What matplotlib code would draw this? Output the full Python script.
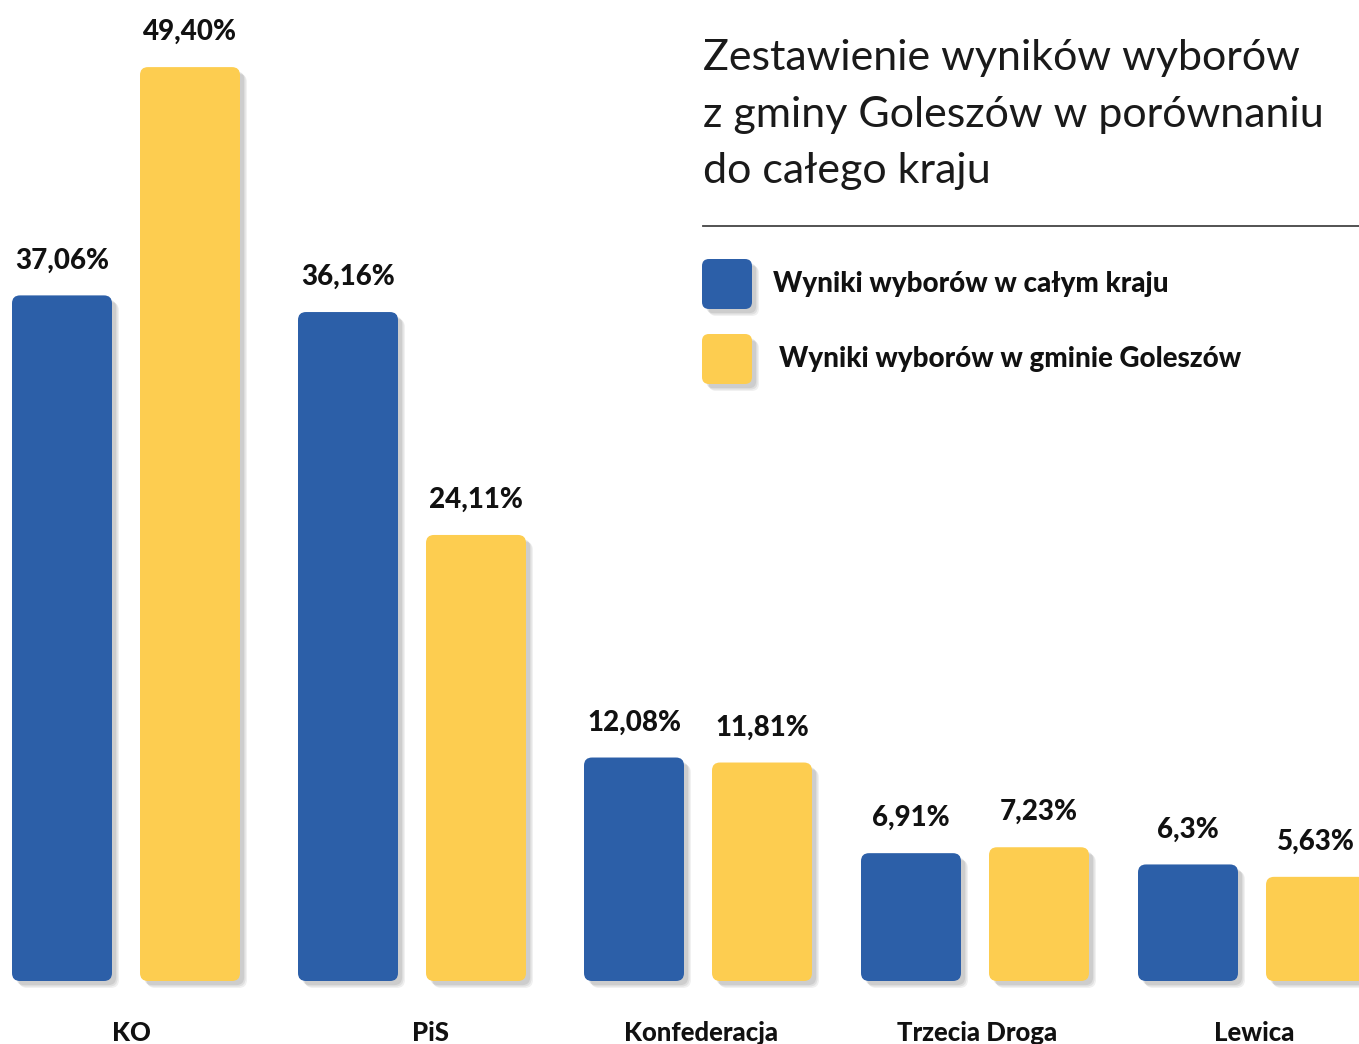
import matplotlib
matplotlib.use("Agg")
import matplotlib.pyplot as plt
import matplotlib.patheffects as pe
from matplotlib.patches import FancyBboxPatch
import numpy as np

plt.rcParams['font.family'] = ['Lato', 'DejaVu Sans']

# ---- data ----
categories = ["KO", "PiS", "Konfederacja", "Trzecia Droga", "Lewica"]
national = [37.06, 36.16, 12.08, 6.91, 6.3]
national_labels = ["37,06%", "36,16%", "12,08%", "6,91%", "6,3%"]
goleszow = [49.40, 24.11, 11.81, 7.23, 5.63]
goleszow_labels = ["49,40%", "24,11%", "11,81%", "7,23%", "5,63%"]
title_lines = ["Zestawienie wyników wyborów",
               "z gminy Goleszów w porównaniu",
               "do całego kraju"]
legend_labels = ["Wyniki wyborów w całym kraju", "Wyniki wyborów w gminie Goleszów"]

BLUE = "#2C5FA8"
YELLOW = "#FDCD50"

W, H = 1359, 1044
fig = plt.figure(figsize=(W / 100, H / 100), dpi=100)

# layout (pixels)
base_px = 981
px_per_pct = 18.5
group_step_px = 281.5
group_px = [126, 412, 698, 975, 1252]
bar_w_px = 100
bar_off_px = 64

ax = fig.add_axes([0, (H - base_px) / H, 1, base_px / H])
ax.set_xlim(0, W / group_step_px)
ax.set_ylim(0, base_px / px_per_pct)
ax.axis("off")

x = np.array(group_px) / group_step_px
bw = bar_w_px / group_step_px
off = bar_off_px / group_step_px

rx = 8 / group_step_px
ry = 8 / px_per_pct

shadow = [pe.SimplePatchShadow(offset=(5, -5), shadow_rgbFace="#000000", alpha=0.06),
          pe.SimplePatchShadow(offset=(4, -4), shadow_rgbFace="#000000", alpha=0.07),
          pe.SimplePatchShadow(offset=(3, -3), shadow_rgbFace="#000000", alpha=0.08),
          pe.Normal()]


def rounded(bars, color):
    for r in bars:
        r.set_visible(False)
        p = FancyBboxPatch((r.get_x(), r.get_y()), r.get_width(), r.get_height(),
                           boxstyle=f"round,pad=0,rounding_size={rx}",
                           mutation_aspect=ry / rx,
                           facecolor=color, edgecolor="none", clip_on=False)
        p.set_path_effects(shadow)
        ax.add_patch(p)


b1 = ax.bar(x - off, national, width=bw, color=BLUE)
b2 = ax.bar(x + off, goleszow, width=bw, color=YELLOW)
rounded(b1, BLUE)
rounded(b2, YELLOW)

LBL = dict(fontsize=20, fontweight="black", color="#111111")
for xi, v, lab in zip(x - off, national, national_labels):
    ax.annotate(lab, (xi, v), xytext=(0, 35), textcoords="offset pixels",
                ha="center", va="center", **LBL)
for xi, v, lab in zip(x + off, goleszow, goleszow_labels):
    ax.annotate(lab, (xi, v), xytext=(0, 35), textcoords="offset pixels",
                ha="center", va="center", **LBL)

cat_dx = [5, 18, 3, 2, 2]
for xi, lab, dx in zip(x, categories, cat_dx):
    ax.annotate(lab, (xi, 0), xytext=(dx, -52), textcoords="offset pixels",
                ha="center", va="center", fontsize=18.5, fontweight="black",
                color="#111111", annotation_clip=False)

# ---- title ----
for i, line in enumerate(title_lines):
    fig.text(703 / W, 1 - (58 + 56.5 * i) / H, line, ha="left", va="center",
             fontsize=31, color="#1a1a1a")

fig.add_artist(plt.Line2D([703 / W, 1], [1 - 226 / H, 1 - 226 / H],
                          color="#444444", linewidth=1.3, transform=fig.transFigure))

# ---- legend ----
leg_y = [284, 359]
leg_tx = [773, 779]
for yc, col, lab, tx in zip(leg_y, [BLUE, YELLOW], legend_labels, leg_tx):
    sq = FancyBboxPatch((702 / W, 1 - (yc + 25) / H), 50 / W, 50 / H,
                        boxstyle=f"round,pad=0,rounding_size={7 / W}",
                        mutation_aspect=W / H,
                        transform=fig.transFigure, facecolor=col, edgecolor="none")
    sq.set_path_effects(shadow)
    fig.add_artist(sq)
    fig.text(tx / W, 1 - yc / H, lab, ha="left", va="center",
             fontsize=20, fontweight="black", color="#111111")

fig.savefig("out.png", dpi=100, facecolor="white")
